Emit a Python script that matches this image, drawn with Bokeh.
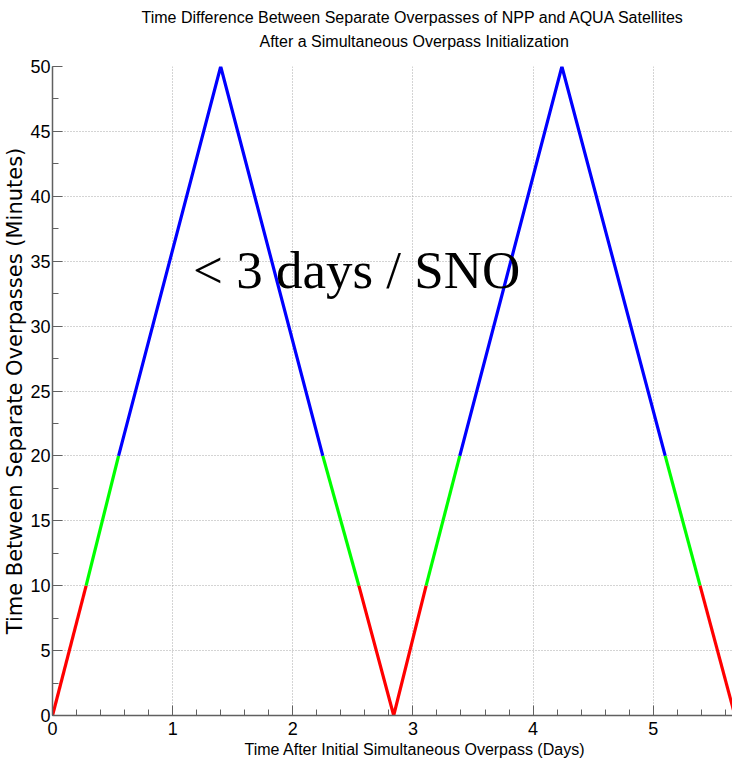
from bokeh.plotting import figure
from bokeh.models import Range1d, Title, Label, FixedTicker
from bokeh.embed import file_html
from bokeh.resources import INLINE

# Data
times = [0.0, 0.28, 0.55, 1.40, 2.25, 2.55, 2.84, 3.11, 3.39, 4.24, 5.10, 5.39, 5.68]
minutes = [0, 10, 20, 50, 20, 10, 0, 10, 20, 50, 20, 10, 0]
seg_colors = ["#ff0000", "#00ff00", "#0000ff", "#0000ff", "#00ff00", "#ff0000",
              "#ff0000", "#00ff00", "#0000ff", "#0000ff", "#00ff00", "#ff0000"]
x_ticks = [0, 1, 2, 3, 4, 5]
y_ticks = [0, 5, 10, 15, 20, 25, 30, 35, 40, 45, 50]

title1 = "Time Difference Between Separate Overpasses of NPP and AQUA Satellites"
title2 = "After a Simultaneous Overpass Initialization"
xlabel = "Time After Initial Simultaneous Overpass (Days)"
ylabel = "Time Between Separate Overpasses (Minutes)"
note = "< 3 days / SNO"

SANS = "Liberation Sans"

p = figure(frame_width=680, frame_height=649, output_backend="svg",
           toolbar_location=None,
           x_range=Range1d(0, 5.66), y_range=Range1d(0, 50),
           min_border_left=44, min_border_right=0, min_border_top=66,
           min_border_bottom=40)
p.outline_line_color = None
p.background_fill_color = "white"
p.border_fill_color = "white"

# group consecutive same-colour segments into polylines
xs_groups, ys_groups, cols = [], [], []
for i, c in enumerate(seg_colors):
    if cols and cols[-1] == c:
        xs_groups[-1].append(times[i + 1])
        ys_groups[-1].append(minutes[i + 1])
    else:
        xs_groups.append([times[i], times[i + 1]])
        ys_groups.append([minutes[i], minutes[i + 1]])
        cols.append(c)
p.multi_line(xs=xs_groups, ys=ys_groups, line_color=cols, line_width=3.2,
             line_join="miter")

# axes
for ax in (p.xaxis[0], p.yaxis[0]):
    ax.axis_line_color = "#606060"
    ax.axis_line_width = 1.5
    ax.major_tick_line_color = "#606060"
    ax.minor_tick_line_color = "#606060"
    ax.major_tick_in = 10
    ax.major_tick_out = 0
    ax.minor_tick_in = 6
    ax.minor_tick_out = 0
    ax.major_label_text_font = SANS
    ax.major_label_text_font_size = "18px"
    ax.major_label_text_color = "black"

p.xaxis.ticker = FixedTicker(ticks=x_ticks, minor_ticks=[i * 0.2 for i in range(29)])
p.yaxis.ticker = FixedTicker(ticks=y_ticks, minor_ticks=[i * 2.5 for i in range(21)])
p.xaxis.major_label_standoff = 6
p.yaxis.major_label_standoff = 2

p.yaxis.axis_label = ylabel
p.yaxis.axis_label_text_font = "DejaVu Sans"
p.yaxis.axis_label_text_font_size = "21px"
p.yaxis.axis_label_text_font_style = "normal"
p.yaxis.axis_label_standoff = 0
p.yaxis.axis_label_text_color = "black"

# grid
for g in (p.xgrid[0], p.ygrid[0]):
    g.grid_line_color = "#a8a8a8"
    g.grid_line_dash = "1 2"
    g.grid_line_width = 1

# spacer between the frame and the two title lines
p.add_layout(Title(text=" ", text_font_size="1px", standoff=14), "above")
# titles (left-aligned with offsets so they centre where the original did)
p.add_layout(Title(text=title2, align="left", offset=207, text_font=SANS,
                   text_font_size="16px", text_font_style="normal",
                   text_color="black", standoff=0), "above")
p.add_layout(Title(text=title1, align="left", offset=89, text_font=SANS,
                   text_font_size="16px", text_font_style="normal",
                   text_color="black", standoff=10), "above")

# x label as a bottom title, offset to where the original sat
p.add_layout(Title(text=xlabel, align="left", offset=192, text_font=SANS,
                   text_font_size="16px", text_font_style="normal",
                   text_color="black", standoff=2), "below")

# annotation
p.add_layout(Label(x=1.17, y=34.3, text=note, text_align="left",
                   text_baseline="middle", text_font="Liberation Serif",
                   text_font_size="53px", text_color="black"))

open("out.html", "w").write(file_html(p, INLINE))
